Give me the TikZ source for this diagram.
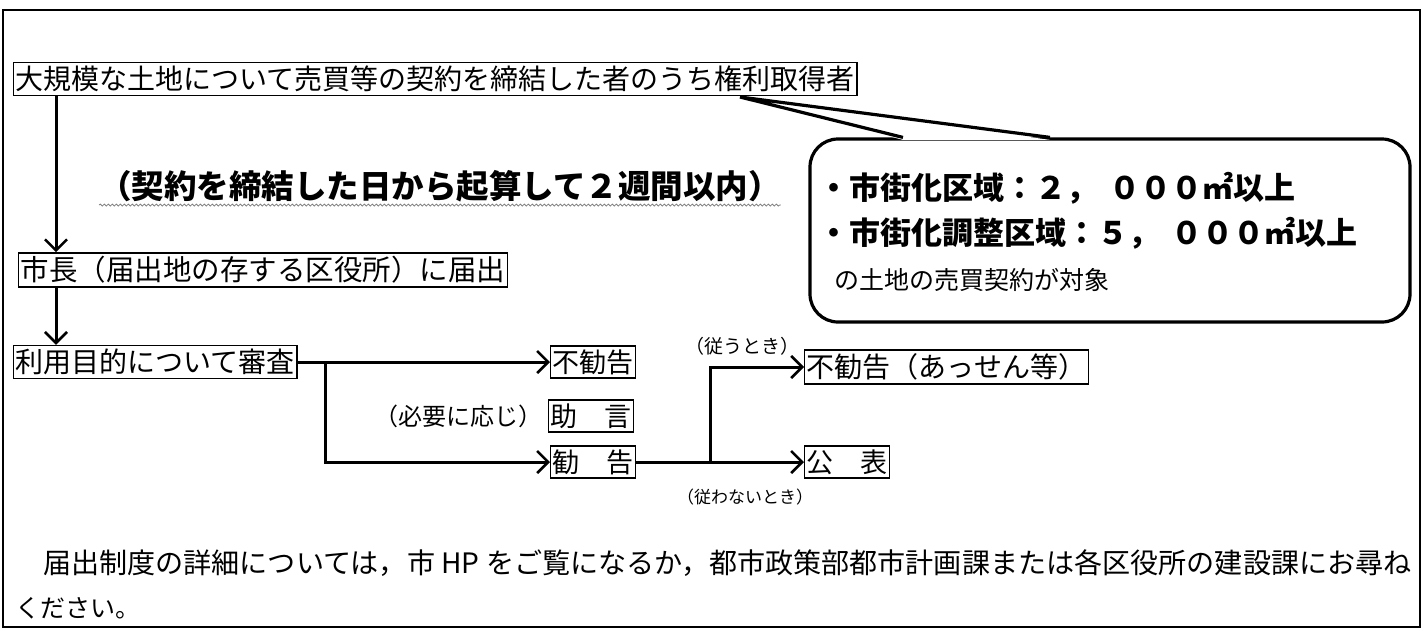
\documentclass[tikz,border=0pt]{standalone}
\usepackage{fontspec}
\setmainfont{Noto Sans CJK JP}
\newfontfamily\jp{Noto Sans CJK JP}
\usetikzlibrary{arrows.meta,decorations.pathmorphing}
\newcommand{\fsz}[1]{\fontsize{#1}{#1}\selectfont}
\tikzset{
  box/.style={draw, line width=1.4pt, inner xsep=2pt, inner ysep=3.5pt, anchor=west},
  arr/.style={line width=3pt, -{Straight Barb[length=11pt,width=22pt,line width=2.6pt]}},
  lbl/.style={inner sep=0pt},
}
\begin{document}
\begin{tikzpicture}[x=1pt,y=-1pt]
\useasboundingbox (0,0) rectangle (1428,630);
\draw[line width=2pt] (3,10) rectangle (1420,627);

% top box
\node[box, font=\jp\fsz{28}] (b1) at (13,79) {大規模な土地について売買等の契約を締結した者のうち権利取得者};
\node[lbl, anchor=west, font=\jp\bfseries\fsz{32.5}] (t1) at (99,186) {（契約を締結した日から起算して２週間以内）};
\draw[gray, line width=0.8pt, decorate, decoration={snake, amplitude=1pt, segment length=4pt}]
  ([yshift=-3pt]t1.south west) -- ([yshift=-3pt]t1.south east);

\node[box, font=\jp\fsz{28.5}] (b2) at (18,270) {市長（届出地の存する区役所）に届出};
\node[box, font=\jp\fsz{28}] (b3) at (13,362) {利用目的について審査};

\coordinate (c1) at (56,0);
\draw[arr] (c1 |- b1.south) -- (c1 |- b2.north);
\draw[arr] (c1 |- b2.south) -- (c1 |- b3.north);

% middle column
\node[box, font=\jp\fsz{27}] (n1) at (550,362) {不勧告};
\node[box, font=\jp\fsz{27}] (n2) at (548,416) {助　言};
\node[box, font=\jp\fsz{27}] (n3) at (550,462) {勧　告};
\node[lbl, anchor=east, font=\jp\fsz{24}] (l1) at (543,416) {（必要に応じ）};

\coordinate (j1) at (325,0);
\draw[arr] (b3.east) -- (n1.west);
\draw[arr] (j1 |- b3.east) |- (n3.west);

% right column
\node[box, font=\jp\fsz{28}] (n4) at (804,367) {不勧告（あっせん等）};
\node[box, font=\jp\fsz{27}] (n5) at (804,462) {公　表};
\node[lbl, font=\jp\fsz{19}] (l2) at (742,346) {（従うとき）};
\node[lbl, font=\jp\fsz{17}] (l3) at (745,497) {（従わないとき）};

\coordinate (j2) at (710,0);
\draw[arr] (n3.east) -- (n5.west);
\draw[arr] (j2 |- n3.east) |- (n4.west);

% callout
\node[draw, line width=3.2pt, rounded corners=28pt, minimum width=600pt, minimum height=183pt] (co) at (1110,230.5) {};
\coordinate (tip) at (740,97);
\coordinate (p1) at (903,0);
\coordinate (p2) at (1050,0);
\fill[white] ([yshift=-2.5pt]co.north -| p1) -- (tip) -- ([yshift=-2.5pt]co.north -| p2) -- cycle;
\draw[line width=3.2pt, line join=miter] (co.north -| p1) -- (tip) -- (co.north -| p2);

\node[lbl, anchor=west, font=\jp\bfseries\fsz{31}] (k1) at (818,188) {・市街化区域：２，\hspace{12pt}０００㎡以上};
\node[lbl, anchor=west, font=\jp\bfseries\fsz{31}] (k2) at (818,233) {・市街化調整区域：５，\hspace{12pt}０００㎡以上};
\node[lbl, anchor=west, font=\jp\fsz{25}] (k3) at (834,280) {の土地の売買契約が対象};

% footer
\node[lbl, anchor=west, font=\jp\fsz{28.1}] (f1) at (43,563) {届出制度の詳細については，市 HP をご覧になるか，都市政策部都市計画課または各区役所の建設課にお尋ね};
\node[lbl, anchor=west, font=\jp\fsz{25}] (f2) at (15,608) {ください。};
\end{tikzpicture}
\end{document}
